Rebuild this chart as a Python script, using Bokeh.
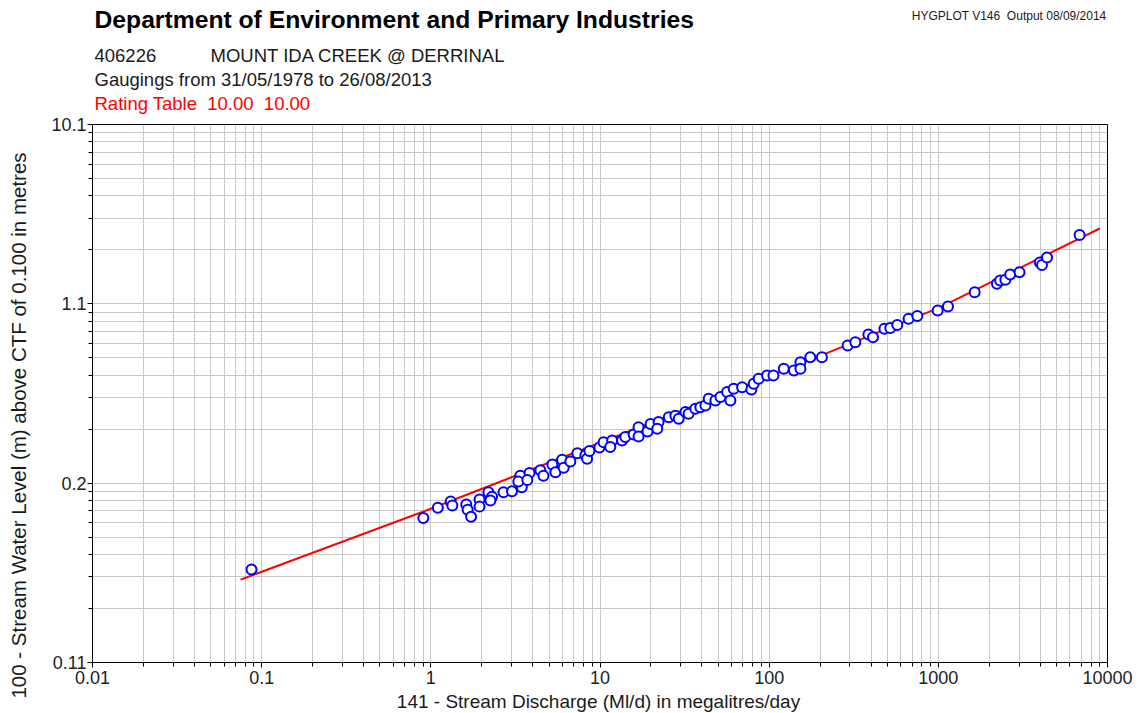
import math
from bokeh.plotting import figure
from bokeh.layouts import column, row
from bokeh.models import FixedTicker, Label, Range1d
from bokeh.embed import file_html
from bokeh.resources import INLINE

# ---------------- data ----------------
CTF = 0.1  # cease-to-flow offset (m)

discharge = [0.0871, 0.903, 1.10, 1.31, 1.34, 1.62, 1.65, 1.73, 1.94, 1.94,
             2.19, 2.30, 2.25, 2.69, 3.02, 3.38, 3.45, 3.29, 3.83, 3.72,
             4.44, 4.63, 5.23, 5.45, 5.97, 6.10, 6.68, 7.35, 8.20, 8.39,
             8.66, 9.92, 10.5, 11.8, 11.5, 13.5, 14.1, 15.8, 16.9, 16.9,
             19.1, 19.9, 22.2, 21.8, 25.5, 27.9, 29.2, 32.0, 33.4, 36.6,
             39.2, 42.0, 43.9, 48.1, 51.5, 56.4, 59.0, 61.7, 69.2, 78.5,
             81.0, 86.7, 97.2, 106, 122, 140, 153, 153, 175, 205,
             291, 323, 386, 411, 480, 520, 572, 667, 751, 991,
             1140, 1640, 2220, 2320, 2490, 2660, 3020, 3980, 4100, 4390, 6840]
stage = [0.133, 0.164, 0.173, 0.179, 0.175, 0.176, 0.171, 0.165, 0.181, 0.174,
         0.189, 0.184, 0.180, 0.189, 0.190, 0.210, 0.195, 0.202, 0.214, 0.204,
         0.218, 0.210, 0.227, 0.215, 0.235, 0.222, 0.232, 0.247, 0.243, 0.237,
         0.251, 0.258, 0.269, 0.273, 0.259, 0.273, 0.281, 0.287, 0.305, 0.282,
         0.294, 0.314, 0.319, 0.301, 0.333, 0.338, 0.329, 0.349, 0.344, 0.360,
         0.365, 0.371, 0.396, 0.389, 0.402, 0.422, 0.389, 0.436, 0.443, 0.433,
         0.458, 0.482, 0.499, 0.499, 0.535, 0.525, 0.573, 0.535, 0.604, 0.604,
         0.686, 0.711, 0.775, 0.752, 0.826, 0.834, 0.863, 0.926, 0.956, 1.019,
         1.067, 1.262, 1.394, 1.450, 1.462, 1.558, 1.602, 1.802, 1.748, 1.914, 2.522]

rating_discharge = [0.075, 1, 10, 100, 1000, 9000]
rating_stage = [0.129, 0.172, 0.268, 0.494, 1.046, 2.73]

x_ticks = [0.01, 0.1, 1, 10, 100, 1000, 10000]
x_tick_labels = ["0.01", "0.1", "1", "10", "100", "1000", "10000"]
y_ticks = [0.11, 0.2, 1.1, 10.1]
y_tick_labels = ["0.11", "0.2", "1.1", "10.1"]

NB = "\u00a0"
title = "Department of Environment and Primary Industries"
station_id = "406226"
station_name = "MOUNT IDA CREEK @ DERRINAL"
gaugings = "Gaugings from 31/05/1978 to 26/08/2013"
rating = "Rating Table" + NB + NB + "10.00" + NB + NB + "10.00"
stamp = "HYGPLOT V146" + NB + NB + "Output 08/09/2014"
x_title = "141 - Stream Discharge (Ml/d) in megalitres/day"
y_title = "100 - Stream Water Level (m) above CTF of 0.100 in metres"

FONT = "Liberation Sans"
TOTAL_W = 1145
TOTAL_H = 713
LEFT_W = 40
RIGHT_W = TOTAL_W - LEFT_W
HEADER_H = 114
MAIN_H = 578
FOOTER_H = TOTAL_H - HEADER_H - MAIN_H
FRAME_L, FRAME_R = 92, 1107   # page x of the plot frame (header/footer share it)


def text_fig(w, h, x0=0, x1=None):
    f = figure(width=w, height=h,
               x_range=Range1d(x0, w if x1 is None else x1), y_range=Range1d(h, 0),
               output_backend="svg", toolbar_location=None,
               x_axis_location=None, y_axis_location=None,
               min_border=0, min_border_left=0, min_border_right=0,
               min_border_top=0, min_border_bottom=0)
    f.outline_line_color = None
    f.xgrid.visible = False
    f.ygrid.visible = False
    f.background_fill_color = "white"
    f.border_fill_color = "white"
    return f


def lab(f, text, x, y, size, color="#000000", style="normal", align="left",
        angle=0.0):
    f.add_layout(Label(x=x, y=y, text=text, text_font=FONT, text_font_size=size,
                       text_color=color, text_font_style=style, text_align=align,
                       text_baseline="middle", angle=angle))


# ---------------- left column: y title (full height) ----------------
left = text_fig(LEFT_W, TOTAL_H)
lab(left, y_title, 18, 425, "20.5px", color="#1a1a1a", align="center",
    angle=math.pi / 2)

# ---------------- header (frame aligned with the plot frame; page x coords) ----
header = text_fig(RIGHT_W, HEADER_H, FRAME_L, FRAME_R)
lab(header, title, 94, 19, "24.7px", style="bold")
lab(header, station_id, 94, 54.5, "18.5px", color="#1a1a1a")
lab(header, station_name, 210, 54.5, "18.5px", color="#1a1a1a")
lab(header, gaugings, 94, 78.5, "18.5px", color="#1a1a1a")
lab(header, rating, 94, 102.5, "18.5px", color="#ff0000")
lab(header, stamp, 1106, 15, "12px", color="#1a1a1a", align="right")

# ---------------- main plot ----------------
p = figure(width=RIGHT_W, height=MAIN_H, x_axis_type="log", y_axis_type="log",
           x_range=Range1d(0.01, 10000), y_range=Range1d(0.01, 10),
           output_backend="svg", toolbar_location=None,
           min_border_left=FRAME_L - LEFT_W, min_border_right=TOTAL_W - FRAME_R,
           min_border_top=10, min_border_bottom=30)
p.background_fill_color = "white"
p.border_fill_color = "white"
p.outline_line_color = "black"
p.outline_line_width = 1


def minors(e0, e1):
    return [m * 10.0 ** e for e in range(e0, e1) for m in range(2, 10)]


y_tick_pos = [round(t - CTF, 6) for t in y_ticks]
xt = FixedTicker(ticks=x_ticks, minor_ticks=minors(-2, 4))
yt = FixedTicker(ticks=y_tick_pos, minor_ticks=minors(-2, 1))
p.xaxis.ticker = xt
p.yaxis.ticker = yt
p.xgrid.ticker = xt
p.ygrid.ticker = yt
p.xaxis.major_label_overrides = {t: l for t, l in zip(x_ticks, x_tick_labels)}
p.yaxis.major_label_overrides = {t: l for t, l in zip(y_tick_pos, y_tick_labels)}

for ax in (p.xaxis, p.yaxis):
    ax.axis_line_color = "black"
    ax.major_tick_line_color = "black"
    ax.minor_tick_line_color = "black"
    ax.major_tick_in = 0
    ax.major_tick_out = 5
    ax.minor_tick_in = 0
    ax.minor_tick_out = 4
    ax.major_label_text_font = FONT
    ax.major_label_text_font_size = "18px"
    ax.major_label_text_color = "#222222"
p.xaxis.major_label_standoff = 3
p.yaxis.major_label_standoff = 1

for g in (p.xgrid, p.ygrid):
    g.grid_line_color = "#c8c8c8"
    g.grid_line_width = 1
    g.minor_grid_line_color = "#c8c8c8"
    g.minor_grid_line_width = 1

# rating curve
p.line(rating_discharge, [h - CTF for h in rating_stage],
       line_color="#ff0000", line_width=2)
# gaugings
p.scatter(discharge, [h - CTF for h in stage], marker="circle",
          size=10, fill_color="white", line_color="#0000ff", line_width=2)

# ---------------- footer (x title; frame aligned with the plot frame) ----------
footer = text_fig(RIGHT_W, FOOTER_H, FRAME_L, FRAME_R)
lab(footer, x_title, 598, 9, "19px", color="#1a1a1a", align="center")

layout = row(left, column(header, p, footer, spacing=0), spacing=0)
open("out.html", "w").write(file_html(layout, INLINE))
